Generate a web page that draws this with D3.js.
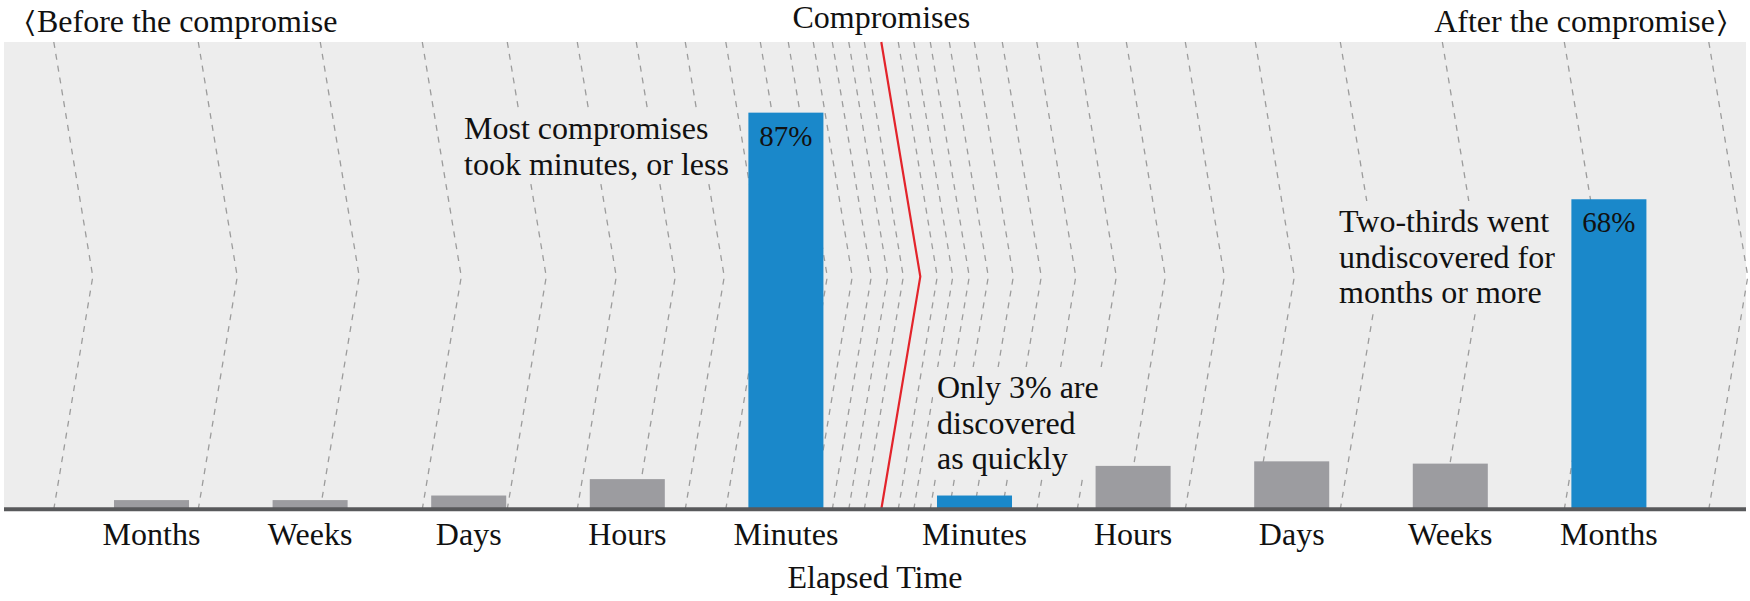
<!DOCTYPE html>
<html>
<head>
<meta charset="utf-8">
<script src="https://cdn.jsdelivr.net/npm/d3@7"></script>
<style>
  body { margin: 0; background: #fff; }
</style>
</head>
<body>
<div id="chart"></div>
<script>
// before / after the compromise, percent of breaches
const beforeCats = ['Months', 'Weeks', 'Days', 'Hours', 'Minutes'];
const beforeValues = [2, 2, 3, 6.6, 87];
const afterCats = ['Minutes', 'Hours', 'Days', 'Weeks', 'Months'];
const afterValues = [3, 9.5, 10.5, 10, 68];
const blueBefore = ['Minutes'];
const blueAfter = ['Minutes', 'Months'];

// background "time" guides, in percent of half width away from the compromise
const guideTicks = [2.05, 3.93, 5.92, 8.22, 11.24, 14.62, 18.79, 23.69, 29.61, 36.74, 45.2, 55.47, 67.8, 82.54, 100];

const width = 1750;
const height = 601;
const panelLeft = 4, panelRight = 1746, panelTop = 42, baseY = 509.2;
const serif = '"Liberation Serif", "Times New Roman", serif';

const svg = d3.select('#chart')
  .append('svg')
    .attr('width', width)
    .attr('height', height);

const y = d3.scaleLinear()
  .domain([0, 100])
  .range([baseY, baseY - 455.8]);

const xBefore = d3.scaleBand()
  .domain(beforeCats)
  .range([72.2, 865.2])
  .paddingInner(0.527)
  .paddingOuter(0.2635);

const xAfter = d3.scaleBand()
  .domain(afterCats)
  .range([895.2, 1688.2])
  .paddingInner(0.527)
  .paddingOuter(0.2635);

const guide = d3.scaleLinear()
  .domain([-100, 100])
  .range([881.3 - 827.5, 881.3 + 827.5]);

// panel
svg.append('rect')
  .attr('x', panelLeft)
  .attr('y', panelTop)
  .attr('width', panelRight - panelLeft)
  .attr('height', baseY - panelTop)
  .attr('fill', '#ededed');

// chevron shaped guides
const kinkY = (panelTop + baseY) / 2 + 1;
const kinkDx = 39;
const chevron = x0 => d3.line()([[x0, panelTop], [x0 + kinkDx, kinkY], [x0, baseY]]);

const guideVals = guideTicks.map(d => -d).reverse().concat(guideTicks);
svg.append('g')
  .selectAll('path')
  .data(guideVals)
  .join('path')
    .attr('d', d => chevron(guide(d)))
    .attr('fill', 'none')
    .attr('stroke', '#9c9c9c')
    .attr('stroke-width', 1.3)
    .attr('stroke-dasharray', '6,6');

// the compromise itself
svg.append('path')
  .attr('d', chevron(guide(0)))
  .attr('fill', 'none')
  .attr('stroke', '#e3242b')
  .attr('stroke-width', 2.2);

// annotations (with a panel coloured box behind them)
function note(x, y0, lines) {
  const g = svg.append('g');
  const bg = g.append('rect').attr('fill', '#ededed');
  const t = g.append('text')
    .attr('x', x)
    .attr('y', y0)
    .attr('fill', '#111')
    .style('font-family', serif)
    .style('font-size', '32px');
  t.selectAll('tspan')
    .data(lines)
    .join('tspan')
      .attr('x', x)
      .attr('dy', (d, i) => i === 0 ? 0 : 35.5)
      .text(d => d);
  const b = t.node().getBBox();
  bg.attr('x', b.x - 4).attr('y', b.y - 2).attr('width', b.width + 8).attr('height', b.height + 4);
}

note(464, 139, ['Most compromises', 'took minutes, or less']);
note(937, 398, ['Only 3% are', 'discovered', 'as quickly']);
note(1339, 232, ['Two-thirds went', 'undiscovered for', 'months or more']);

// bars
const colour = (list, c) => list.includes(c) ? '#1a88ca' : '#9c9ca0';

svg.append('g')
  .selectAll('rect')
  .data(beforeCats)
  .join('rect')
    .attr('x', d => xBefore(d))
    .attr('y', (d, i) => y(beforeValues[i]))
    .attr('width', xBefore.bandwidth())
    .attr('height', (d, i) => baseY - y(beforeValues[i]))
    .attr('fill', d => colour(blueBefore, d));

svg.append('g')
  .selectAll('rect')
  .data(afterCats)
  .join('rect')
    .attr('x', d => xAfter(d))
    .attr('y', (d, i) => y(afterValues[i]))
    .attr('width', xAfter.bandwidth())
    .attr('height', (d, i) => baseY - y(afterValues[i]))
    .attr('fill', d => colour(blueAfter, d));

// value labels on the big bars
const bigOnes = [
  ...beforeCats.map((c, i) => ({x: xBefore(c) + xBefore.bandwidth() / 2, v: beforeValues[i]})),
  ...afterCats.map((c, i) => ({x: xAfter(c) + xAfter.bandwidth() / 2, v: afterValues[i]}))
].filter(d => d.v > 50);

svg.append('g')
  .selectAll('text')
  .data(bigOnes)
  .join('text')
    .attr('x', d => d.x)
    .attr('y', d => y(d.v) + 33)
    .attr('text-anchor', 'middle')
    .attr('fill', '#111')
    .style('font-family', serif)
    .style('font-size', '29px')
    .text(d => d.v + '%');

// baseline
svg.append('line')
  .attr('x1', panelLeft)
  .attr('x2', panelRight)
  .attr('y1', baseY)
  .attr('y2', baseY)
  .attr('stroke', '#58595b')
  .attr('stroke-width', 4);

// category axes
[xBefore, xAfter].forEach(sc => {
  svg.append('g')
    .attr('transform', `translate(0,${baseY})`)
    .call(d3.axisBottom(sc).tickSize(0))
    .call(g => g.select('.domain').remove())
    .call(g => g.selectAll('text')
      .attr('y', 36)
      .attr('dy', null)
      .attr('fill', '#111')
      .style('font-family', serif)
      .style('font-size', '32px'));
});

svg.append('text')
  .attr('x', (panelLeft + panelRight) / 2)
  .attr('y', 588)
  .attr('text-anchor', 'middle')
  .attr('fill', '#111')
  .style('font-family', serif)
  .style('font-size', '32px')
  .text('Elapsed Time');

// headings
svg.append('text')
  .attr('x', guide(0))
  .attr('y', 28)
  .attr('text-anchor', 'middle')
  .attr('fill', '#111')
  .style('font-family', serif)
  .style('font-size', '32px')
  .text('Compromises');

const left = svg.append('text')
  .attr('x', 25)
  .attr('y', 32)
  .attr('fill', '#111')
  .style('font-family', serif)
  .style('font-size', '32px');
left.append('tspan').style('font-family', '"DejaVu Sans"').style('font-size', '30px').style('font-weight', 300).text('\u2329');
left.append('tspan').attr('dx', 2).text('Before the compromise');

const right = svg.append('text')
  .attr('x', 1727)
  .attr('y', 32)
  .attr('text-anchor', 'end')
  .attr('fill', '#111')
  .style('font-family', serif)
  .style('font-size', '32px');
right.append('tspan').text('After the compromise');
right.append('tspan').attr('dx', 2).style('font-family', '"DejaVu Sans"').style('font-size', '30px').style('font-weight', 300).text('\u232A');
</script>
</body>
</html>
